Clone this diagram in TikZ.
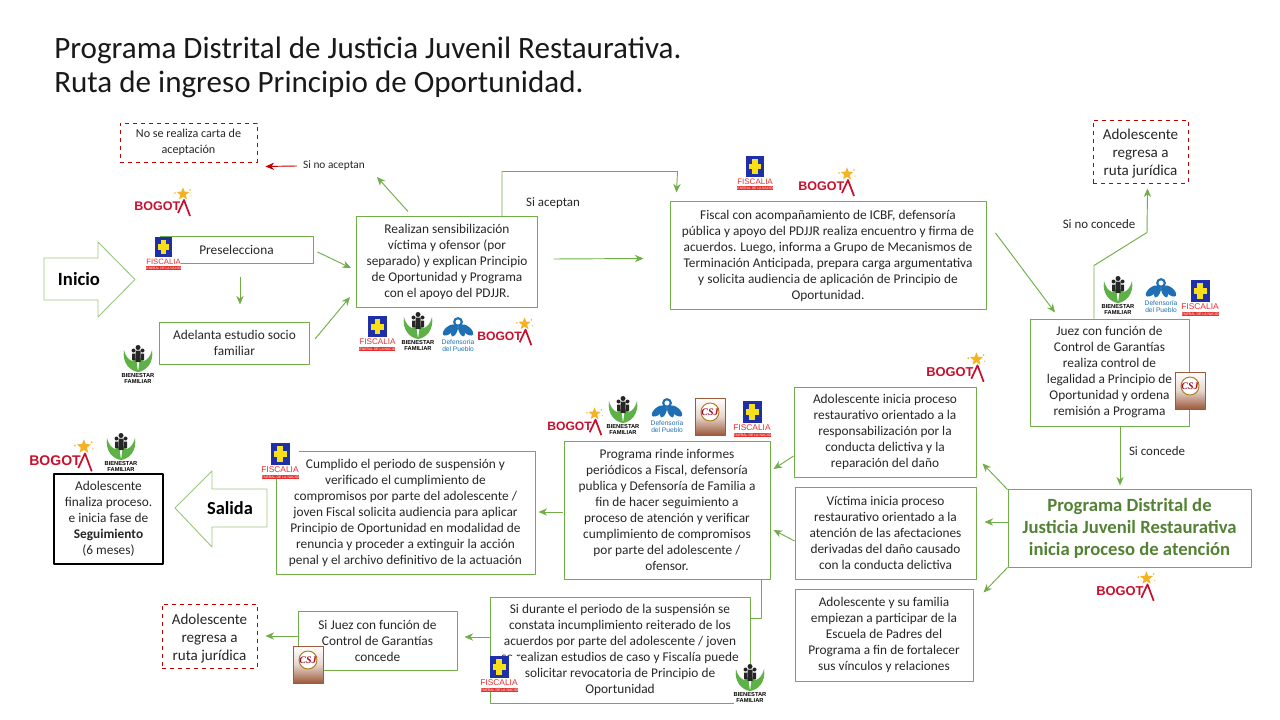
\documentclass[tikz,border=0pt]{standalone}
\usepackage{fontspec}
\setmainfont{Carlito}
\newfontfamily\logofont{Liberation Sans}
\newfontfamily\logoserif{Liberation Serif}
\usetikzlibrary{arrows.meta,shapes.geometric}

\definecolor{boxgreen}{HTML}{70AD47}
\definecolor{textdark}{HTML}{262626}
\definecolor{dashred}{HTML}{C00000}
\definecolor{titlegreen}{HTML}{548235}
\definecolor{fisblue}{HTML}{1F2FA8}
\definecolor{fisyellow}{HTML}{F7E017}
\definecolor{fisred}{HTML}{E5302E}
\definecolor{bogred}{HTML}{C8102E}
\definecolor{boggold}{HTML}{F5B324}
\definecolor{icbfgreen}{HTML}{5DB146}
\definecolor{defblue}{HTML}{1F6FB5}
\definecolor{csjbrown}{HTML}{9C5A3C}

\tikzset{
  logotext/.style={inner sep=0pt, transform shape, align=center},
  pics/fiscalia/.style={code={
    \fill[white] (0,0) rectangle (38,36);
    \fill[fisblue] (9.5,0) rectangle (28.5,22);
    \fill[fisyellow] (16,3) rectangle (22,19);
    \fill[fisyellow] (12.5,8) rectangle (25.5,14);
    \node[logotext, text=fisred, font=\logofont\fontsize{6.3}{7}\selectfont] at (19,27) {FISCALIA};
    \fill[fisred] (0.5,31.5) rectangle (37.5,36);
    \node[logotext, text=white, font=\logofont\fontsize{2.6}{3}\selectfont] at (19,33.8) {GENERAL DE LA NACIÓN};
  }},
  pics/bogota/.style={code={
    \node[logotext, anchor=west, text=bogred, font=\logofont\bfseries\fontsize{9.4}{10}\selectfont] at (0,18.5) {BOGOT};
    \draw[bogred, line width=1.3pt, line join=round] (44,25) -- (50,12) -- (56,28);
    \node[star, star points=5, star point ratio=2.3, fill=boggold, minimum size=10pt, inner sep=0pt, transform shape] at (49,6) {};
    \fill[boggold] (41,5) circle (0.9) (56,2) circle (0.9) (57,8) circle (0.7);
  }},
  pics/icbf/.style={code={
    \fill[white] (0,0) rectangle (32,40);
    \fill[icbfgreen] (2,5) .. controls (4,12) and (6,14) .. (10,16) -- (14,13) -- (16,27) .. controls (8,26) and (0,18) .. cycle;
    \fill[icbfgreen] (30,5) .. controls (28,12) and (26,14) .. (22,16) -- (18,13) -- (16,27) .. controls (24,26) and (32,18) .. cycle;
    \fill[black!85] (16,2.5) circle (2.5) (11.5,5.5) circle (2) (20.5,5.5) circle (2);
    \fill[black!85] (13.5,5.5) rectangle (18.5,17) (10,8.5) rectangle (13,15) (19,8.5) rectangle (22,15);
    \node[logotext, font=\logofont\bfseries\fontsize{4.3}{4.9}\selectfont] at (16,33.5) {BIENESTAR\\FAMILIAR};
  }},
  pics/defensoria/.style={code={
    \fill[white] (0,0) rectangle (34,38);
    \draw[defblue, line width=1.6pt] (17,5) circle (3.8);
    \fill[defblue, rotate around={40:(8,13)}] (8,13) ellipse (7.5 and 3.6);
    \fill[defblue, rotate around={-40:(26,13)}] (26,13) ellipse (7.5 and 3.6);
    \fill[defblue, rotate around={65:(13.5,14)}] (13.5,14) ellipse (6 and 2.6);
    \fill[defblue, rotate around={-65:(20.5,14)}] (20.5,14) ellipse (6 and 2.6);
    \node[logotext, text=defblue, font=\logofont\fontsize{5}{5.6}\selectfont] at (17,28.5) {Defensoría\\del Pueblo};
  }},
  pics/csj/.style={code={
    \shade[top color=white, bottom color=csjbrown, middle color=white!75!csjbrown] (0,0) rectangle (30,37);
    \draw[csjbrown, line width=0.4pt] (0,0) rectangle (30,37);
    \draw[boggold!70!black, line width=0.7pt, fill=white] (15,14) circle (9);
    \node[logotext, text=bogred!80!black, font=\logoserif\itshape\bfseries\fontsize{7.5}{8}\selectfont] at (15,14) {CSJ};
  }},
  box/.style 2 args={draw=boxgreen, line width=0.75pt, align=center, inner sep=0pt,
    text=textdark, font=\fontsize{10}{12}\selectfont,
    minimum width=#1*0.75pt, minimum height=#2*0.75pt},
  dashbox/.style 2 args={box={#1}{#2}, draw=dashred, dashed, line width=0.7pt},
  endbox/.style 2 args={box={#1}{#2}, draw=black, line width=0.9pt},
  tag/.style={inner sep=0pt, text=textdark, font=\fontsize{9.7}{11}\selectfont},
  bigarrow/.style={draw=boxgreen!70!white, line width=0.7pt},
  flow/.style={draw=boxgreen, line width=0.7pt, -{Stealth[length=6.5pt, width=5.5pt]}},
  noflow/.style={draw=boxgreen, line width=0.7pt},
  backflow/.style={draw=dashred, line width=0.7pt, -{Stealth[length=6.5pt, width=5.5pt]}}
}

\begin{document}
\begin{tikzpicture}[x=0.75pt, y=-0.75pt, line join=round]
  \useasboundingbox (0,0) rectangle (1280,720);

  \node[anchor=north west, inner sep=0pt, align=left, text=black!90, font=\fontsize{23.3}{25.5}\selectfont] (titulo) at (54,37)
    {Programa Distrital de Justicia Juvenil Restaurativa.\\Ruta de ingreso Principio de Oportunidad.};

  % primera fila
  \node[box={153}{26}] (presel) at (236.5,250) {Preselecciona};
  \node[box={150}{42}] (estudio) at (234.5,343) {Adelanta estudio socio\\familiar};
  \node[box={181}{90}] (sensib) at (447,262) {Realizan sensibilización\\víctima y ofensor (por\\separado) y explican Principio\\de  Oportunidad y Programa\\con el apoyo del PDJJR.};
  \node[box={316}{107}] (fiscal) at (828,255.5) {Fiscal con acompañamiento de ICBF, defensoría\\pública y apoyo del PDJJR  realiza encuentro y firma de\\acuerdos. Luego,  informa a Grupo de Mecanismos de\\Terminación Anticipada, prepara carga argumentativa\\y solicita audiencia de aplicación de Principio de\\Oportunidad.};
  \node[box={159}{107}] (juez) at (1109.5,372.5) {Juez  con función de\\Control de Garantías\\realiza control de\\legalidad a Principio de\\Oportunidad y ordena\\remisión a Programa};
  \node[dashbox={137}{39}, font=\fontsize{9.1}{12}\selectfont] (nocarta) at (188.5,142.5) {No se realiza carta de\\aceptación};
  \node[dashbox={95}{63}, font=\fontsize{11.3}{13.5}\selectfont] (regresa) at (1140.5,151.5) {\rule{0pt}{11pt}Adolescente\\regresa a\\ruta jurídica};
  \node[tag, font=\fontsize{8.5}{10}\selectfont] (noacepta) at (334,166) {Si no aceptan};
  \node[tag] (acepta) at (553,203) {Si aceptan};
  \node[tag] (noconcede) at (1099,224) {Si no concede};
  \node[tag] (concede) at (1157,451) {Si concede};

  % programa y procesos
  \node[box={243}{78}, text=titlegreen, font=\bfseries\fontsize{14}{16.5}\selectfont] (programa) at (1129.5,528) {Programa Distrital de\\Justicia Juvenil Restaurativa\\inicia proceso de atención};
  \node[box={182}{90}] (respons) at (885,432) {Adolescente  inicia proceso\\restaurativo orientado a la\\responsabilización por la\\conducta delictiva y la\\reparación del daño};
  \node[box={181}{92}] (victima) at (885.5,533) {Víctima inicia proceso\\restaurativo orientado a la\\atención de  las afectaciones\\derivadas del daño causado\\con la conducta delictiva};
  \node[box={178}{92}] (familia) at (884,635) {Adolescente y su familia\\empiezan  a participar de la\\Escuela de Padres del\\Programa a fin de fortalecer\\sus vínculos y relaciones};
  \node[box={206}{138}] (informes) at (667,510) {Programa rinde informes\\periódicos a Fiscal, defensoría\\publica y Defensoría de Familia a\\fin de  hacer seguimiento a\\proceso de atención y verificar\\cumplimiento de compromisos\\por parte del adolescente /\\ofensor.};
  \node[box={259}{123}] (cumplido) at (405.5,512.5) {Cumplido el periodo de suspensión y\\verificado el  cumplimiento de\\compromisos por parte del adolescente /\\joven Fiscal solicita audiencia para aplicar\\Principio de Oportunidad en modalidad de\\renuncia y proceder  a extinguir la acción\\penal y el archivo definitivo de la actuación};
  \node[box={260}{106}] (durante) at (620,650) {Si durante el periodo de  la suspensión se\\constata incumplimiento reiterado de  los\\acuerdos por parte del adolescente / joven\\se realizan estudios de caso y Fiscalía puede\\solicitar revocatoria de Principio de\\Oportunidad};
  \node[box={159}{59}] (sijuez) at (377.5,640.5) {Si Juez  con función de\\Control de Garantías\\concede};
  \node[dashbox={95}{64}, font=\fontsize{11.3}{13.5}\selectfont] (regresados) at (209.5,636) {\rule{0pt}{11pt}Adolescente\\regresa a\\ruta jurídica};
  \node[endbox={109}{90}] (finaliza) at (108.5,519) {Adolescente\\finaliza proceso.\\e  inicia fase de\\\textbf{Seguimiento}\\(6 meses)};

  % flechas grandes
  \draw[bigarrow] (44,258) -- (98,258) -- (98,242) -- (135,279.5) -- (98,317) -- (98,300) -- (44,300) -- cycle;
  \node[inner sep=0pt, font=\bfseries\fontsize{14}{16}\selectfont] (inicio) at (79,279) {Inicio};
  \draw[bigarrow] (267,489) -- (212,489) -- (212,471) -- (175,508) -- (212,547) -- (212,527) -- (267,527) -- cycle;
  \node[inner sep=0pt, font=\bfseries\fontsize{13.8}{16}\selectfont] (salida) at (230,508) {Salida};

  % conectores
  \draw[flow] ([shift={(4,2)}]presel.east) -- ([shift={(-5,6)}]sensib.west);
  \draw[flow] ([shift={(5,-4)}]estudio.east) -- ([shift={(-6,35)}]sensib.west);
  \draw[flow] ([shift={(3.5,13)}]presel.south) -- ([shift={(5.5,-17)}]estudio.north);
  \draw[flow] ([shift={(-39,-5)}]sensib.north) -- ([shift={(43,11)}]noacepta.center);
  \draw[backflow] ([shift={(-6,0)}]noacepta.west) -- ([shift={(8,4)}]nocarta.south east);
  \draw[flow] ([shift={(55,0)}]sensib.north) |- ([shift={(8,-30)}]fiscal.north west) -- ([shift={(7,-9)}]fiscal.north west);
  \draw[flow] ([shift={(15.5,-3)}]sensib.east) -- ([shift={(-26,3)}]fiscal.west);
  \draw[flow] ([shift={(9,-22.5)}]fiscal.east) -- ([shift={(-54.5,-6)}]juez.north);
  \draw[flow] ([shift={(-15.5,0)}]juez.north) -- ++(0,-53) -- ++(53,-33) -- ([shift={(7,5)}]regresa.south);
  \draw[flow] ([shift={(10.5,0)}]juez.south) -- ([shift={(-9.5,-3)}]programa.north);
  \draw[flow] ([shift={(0,1)}]programa.north west) -- ([shift={(6,-14)}]respons.south east);
  \draw[flow] ([shift={(0,-6)}]programa.west) -- ([shift={(8,-11)}]victima.east);
  \draw[flow] (programa.south west) -- ([shift={(10,4)}]familia.north east);
  \draw[flow] ([shift={(0,24)}]respons.west) -- ([shift={(3,-41)}]informes.east);
  \draw[flow] ([shift={(0,8)}]victima.west) -- ([shift={(3,20)}]informes.east);
  \draw[flow] ([shift={(-1,2)}]informes.west) -- ([shift={(3,-0.5)}]cumplido.east);
  \draw[noflow] ([shift={(94,0)}]informes.south) |- ([shift={(0,-32)}]durante.east);
  \draw[flow] ([shift={(0,-13)}]durante.west) -- ([shift={(7,-3.5)}]sijuez.east);
  \draw[flow] ([shift={(0,-4.5)}]sijuez.west) -- ([shift={(8,0)}]regresados.east);

  % logos
  \pic at (134,188) {bogota};
  \pic[scale=0.92] at (146,237) {fiscalia};
  \pic at (122,345) {icbf};
  \pic[scale=0.97] at (359,316) {fiscalia};
  \pic at (402,312) {icbf};
  \pic at (441,317) {defensoria};
  \pic[scale=0.97] at (477,318) {bogota};
  \pic[scale=0.95] at (737,156) {fiscalia};
  \pic at (798,168) {bogota};
  \pic at (1102,276) {icbf};
  \pic at (1144,278) {defensoria};
  \pic at (1181,280) {fiscalia};
  \pic at (1175,372) {csj};
  \pic[scale=1.03] at (926,353) {bogota};
  \pic[scale=1.03] at (1096,572) {bogota};
  \pic[scale=0.97] at (547,408) {bogota};
  \pic at (607,396) {icbf};
  \pic at (650,398) {defensoria};
  \pic at (695,398) {csj};
  \pic at (733,401) {fiscalia};
  \pic at (261,443) {fiscalia};
  \pic[scale=1.12] at (29,440) {bogota};
  \pic at (105,433) {icbf};
  \pic at (293,646) {csj};
  \pic at (480,656) {fiscalia};
  \pic at (734,664) {icbf};
\end{tikzpicture}
\end{document}
